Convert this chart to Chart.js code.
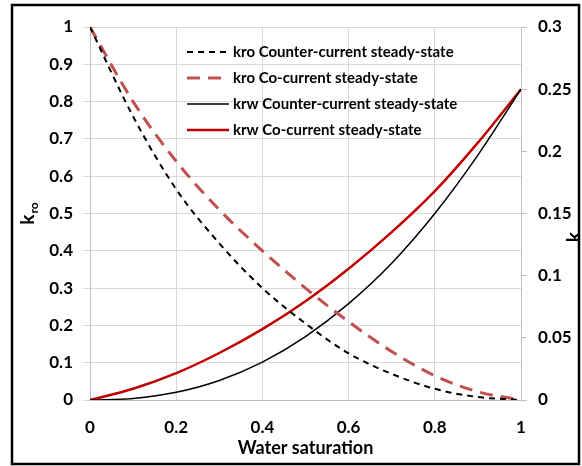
<!DOCTYPE html>
<html>
<head>
<meta charset="utf-8">
<title>Relative permeability</title>
<script src="https://cdn.jsdelivr.net/npm/chart.js@4.4.0/dist/chart.umd.min.js"></script>
<style>
    html, body { margin: 0; padding: 0; background: #fff; }
    #wrap { position: relative; width: 582px; height: 466px; }
</style>
</head>
<body>
<div id="wrap"><canvas id="permChart" width="582" height="466"></canvas></div>
<script>
// Water saturation (x)
const saturation = [0, 0.1, 0.2, 0.3, 0.4, 0.5, 0.6, 0.7, 0.8, 0.9, 1];

// kro - left axis
const kroCounter = [1, 0.76, 0.565, 0.42, 0.30, 0.205, 0.125, 0.07, 0.03, 0.008, 0];
const kroCo = [1, 0.80, 0.64, 0.51, 0.40, 0.30, 0.21, 0.13, 0.065, 0.022, 0];

// krw - right axis
const krwCounter = [0, 0.0013, 0.0062, 0.0157, 0.0305, 0.051, 0.0775, 0.110, 0.150, 0.197, 0.25];
const krwCo = [0, 0.009, 0.0216, 0.0378, 0.057, 0.0795, 0.1056, 0.135, 0.168, 0.207, 0.25];

const legendLabels = [
    'kro Counter-current steady-state',
    'kro Co-current steady-state',
    'krw Counter-current steady-state',
    'krw Co-current steady-state'
];

const FONT = 'Lato, "Open Sans", sans-serif';
const gridColor = '#d9d9d9';
const axisColor = '#bfbfbf';

const toPoints = (ys) => saturation.map((x, i) => ({ x: x, y: ys[i] }));
const fmtTick = (v) => String(+v.toFixed(2));

// Titles with subscripts, legend inside plot and outer frame
const decorPlugin = {
    id: 'decor',
    afterDraw(chart) {
        const ctx = chart.ctx;
        const area = chart.chartArea;
        ctx.save();

        // x axis title
        ctx.fillStyle = '#000';
        ctx.font = 'bold 18px ' + FONT;
        ctx.textAlign = 'center';
        ctx.textBaseline = 'middle';
        ctx.fillText('Water saturation', (area.left + area.right) / 2, 448);

        // rotated titles k_ro / k_rw
        const drawSub = (x, y, sub) => {
            ctx.save();
            ctx.translate(x, y);
            ctx.rotate(-Math.PI / 2);
            ctx.textAlign = 'left';
            ctx.textBaseline = 'alphabetic';
            ctx.font = 'bold 19px ' + FONT;
            const kw = ctx.measureText('k').width;
            ctx.font = 'bold 12px ' + FONT;
            const sw = ctx.measureText(sub).width;
            const start = -(kw + sw) / 2;
            ctx.font = 'bold 19px ' + FONT;
            ctx.fillText('k', start, 0);
            ctx.font = 'bold 12px ' + FONT;
            ctx.fillText(sub, start + kw + 1, 4);
            ctx.restore();
        };
        drawSub(34, 214, 'ro');
        ctx.save();
        ctx.beginPath();
        ctx.rect(12, 5, 567, 459);
        ctx.clip();
        drawSub(580, 230, 'rw');
        ctx.restore();

        // legend
        const rows = [52, 78, 104, 130];
        chart.data.datasets.forEach((ds, i) => {
            const y = rows[i];
            ctx.save();
            ctx.strokeStyle = ds.borderColor;
            ctx.lineWidth = ds.borderWidth;
            ctx.setLineDash(ds.borderDash || []);
            ctx.beginPath();
            ctx.moveTo(187, y);
            ctx.lineTo(229, y);
            ctx.stroke();
            ctx.restore();
            ctx.fillStyle = '#000';
            ctx.font = 'bold 15px ' + FONT;
            ctx.textAlign = 'left';
            ctx.textBaseline = 'middle';
            ctx.fillText(ds.label, 233, y);
        });

        // frame
        ctx.strokeStyle = '#000';
        ctx.lineWidth = 2.5;
        ctx.strokeRect(12, 5, 567, 459);
        ctx.restore();
    }
};

const ctx = document.getElementById('permChart').getContext('2d');
const permChart = new Chart(ctx, {
    type: 'line',
    data: {
        datasets: [{
            label: legendLabels[0],
            data: toPoints(kroCounter),
            yAxisID: 'y',
            borderColor: '#000000',
            borderWidth: 2,
            borderDash: [6, 5]
        }, {
            label: legendLabels[1],
            data: toPoints(kroCo),
            yAxisID: 'y',
            borderColor: '#c0504d',
            borderWidth: 3,
            borderDash: [13, 8]
        }, {
            label: legendLabels[2],
            data: toPoints(krwCounter),
            yAxisID: 'y2',
            borderColor: '#000000',
            borderWidth: 1.5
        }, {
            label: legendLabels[3],
            data: toPoints(krwCo),
            yAxisID: 'y2',
            borderColor: '#c00000',
            borderWidth: 2.5
        }]
    },
    options: {
        responsive: false,
        animation: false,
        events: [],
        elements: {
            point: { radius: 0 },
            line: { cubicInterpolationMode: 'monotone', fill: false }
        },
        layout: {
            padding: { top: 27, left: 0, right: 0, bottom: 0 }
        },
        plugins: {
            legend: { display: false },
            tooltip: { enabled: false }
        },
        scales: {
            x: {
                type: 'linear',
                min: 0,
                max: 1,
                afterFit: (scale) => { scale.height = 66; },
                ticks: {
                    stepSize: 0.2,
                    padding: 17,
                    color: '#000',
                    callback: fmtTick,
                    font: { family: FONT, size: 17, weight: 'bold' }
                },
                grid: { color: gridColor, drawTicks: false },
                border: { color: axisColor }
            },
            y: {
                position: 'left',
                min: 0,
                max: 1,
                afterFit: (scale) => { scale.width = 90; },
                ticks: {
                    stepSize: 0.1,
                    padding: 10,
                    color: '#000',
                    callback: fmtTick,
                    font: { family: FONT, size: 17, weight: 'bold' }
                },
                grid: { color: gridColor, tickLength: 7 },
                border: { color: axisColor }
            },
            y2: {
                position: 'right',
                min: 0,
                max: 0.3,
                afterFit: (scale) => { scale.width = 61; },
                ticks: {
                    stepSize: 0.05,
                    padding: 11,
                    color: '#000',
                    callback: fmtTick,
                    font: { family: FONT, size: 17, weight: 'bold' }
                },
                grid: { color: axisColor, drawOnChartArea: false, tickLength: 6 },
                border: { color: axisColor }
            }
        }
    },
    plugins: [decorPlugin]
});
</script>
</body>
</html>
